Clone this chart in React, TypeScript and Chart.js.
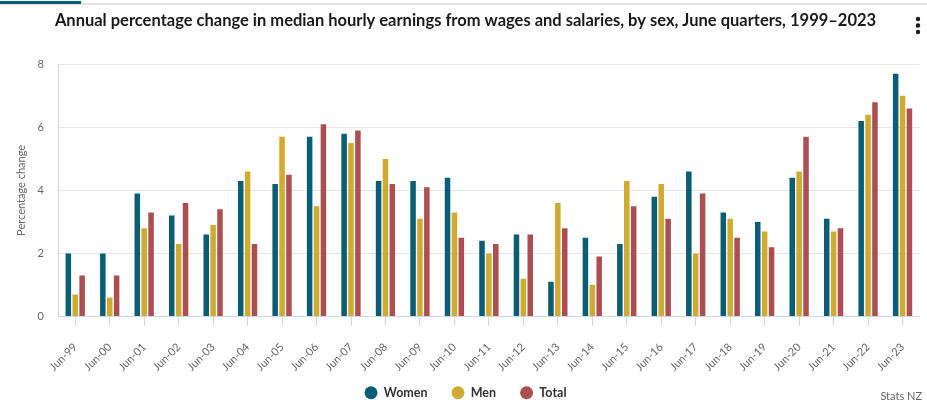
import React, { useEffect, useRef } from "react";
import { Chart, registerables } from "chart.js";

Chart.register(...registerables);

const categories = [
  "Jun-99", "Jun-00", "Jun-01", "Jun-02", "Jun-03", "Jun-04", "Jun-05", "Jun-06",
  "Jun-07", "Jun-08", "Jun-09", "Jun-10", "Jun-11", "Jun-12", "Jun-13", "Jun-14",
  "Jun-15", "Jun-16", "Jun-17", "Jun-18", "Jun-19", "Jun-20", "Jun-21", "Jun-22", "Jun-23",
];
const women = [2.0, 2.0, 3.9, 3.2, 2.6, 4.3, 4.2, 5.7, 5.8, 4.3, 4.3, 4.4, 2.4, 2.6, 1.1, 2.5, 2.3, 3.8, 4.6, 3.3, 3.0, 4.4, 3.1, 6.2, 7.7];
const men = [0.7, 0.6, 2.8, 2.3, 2.9, 4.6, 5.7, 3.5, 5.5, 5.0, 3.1, 3.3, 2.0, 1.2, 3.6, 1.0, 4.3, 4.2, 2.0, 3.1, 2.7, 4.6, 2.7, 6.4, 7.0];
const total = [1.3, 1.3, 3.3, 3.6, 3.4, 2.3, 4.5, 6.1, 5.9, 4.2, 4.1, 2.5, 2.3, 2.6, 2.8, 1.9, 3.5, 3.1, 3.9, 2.5, 2.2, 5.7, 2.8, 6.8, 6.6];
const yTicks = [0, 2, 4, 6, 8];

const TITLE = "Annual percentage change in median hourly earnings from wages and salaries, by sex, June quarters, 1999\u20132023";
const FONT = "Lato, 'Open Sans', sans-serif";

const decorPlugin = {
  id: "decor",
  afterDraw(chart: any) {
    const ctx = chart.ctx;
    ctx.save();
    ctx.fillStyle = "#e3e3e3";
    ctx.fillRect(0, 3, chart.width, 2);
    ctx.fillStyle = "#0b5d75";
    ctx.fillRect(0, 1, 81, 3);
    ctx.fillStyle = "#1a1a1a";
    [19, 25.5, 32].forEach((y) => {
      ctx.beginPath();
      ctx.arc(918, y, 2.2, 0, Math.PI * 2);
      ctx.fill();
    });
    ctx.font = `11px ${FONT}`;
    ctx.fillStyle = "#666";
    ctx.textAlign = "right";
    ctx.textBaseline = "middle";
    ctx.fillText("Stats NZ", 922, 396);
    ctx.restore();
  },
};

export default function App() {
  const ref = useRef<HTMLCanvasElement | null>(null);
  useEffect(() => {
    document.body.style.margin = "0";
    const chart = new Chart(ref.current as HTMLCanvasElement, {
      type: "bar",
      data: {
        labels: categories,
        datasets: [
          { label: "Women", data: women, backgroundColor: "#0b5d75", borderWidth: 0 },
          { label: "Men", data: men, backgroundColor: "#d1ab30", borderWidth: 0 },
          { label: "Total", data: total, backgroundColor: "#ad4f52", borderWidth: 0 },
        ],
      },
      options: {
        responsive: false,
        animation: false,
        devicePixelRatio: 1,
        layout: { padding: { left: 10, right: 6, top: 0, bottom: -3 } },
        datasets: { bar: { categoryPercentage: 0.6, barPercentage: 0.8 } },
        plugins: {
          title: {
            display: true,
            text: TITLE,
            color: "#1a1a1a",
            font: { family: FONT, size: 16.5, weight: "bold" },
            padding: { top: 11, bottom: 33.5 },
          },
          legend: {
            position: "bottom",
            labels: {
              usePointStyle: true,
              pointStyle: "circle",
              pointStyleWidth: 13,
              boxWidth: 13,
              boxHeight: 9.2,
              padding: 24,
              color: "#333",
              font: { family: FONT, size: 12.5, weight: "bold" },
            },
          },
          tooltip: { enabled: false },
        },
        scales: {
          x: {
            offset: true,
            grid: { display: true, offset: false, drawOnChartArea: false, drawTicks: true, tickLength: 9, color: "#ccd6eb" },
            border: { display: true, color: "#ccd6eb" },
            ticks: {
              color: "#666",
              font: { family: FONT, size: 11 },
              minRotation: 45,
              maxRotation: 45,
              autoSkip: false,
              padding: 15,
            },
            afterFit: (s: any) => {
              s.height = 46;
              s._computeLabelArea = () => undefined;
            },
          },
          y: {
            min: 0,
            max: 8,
            afterBuildTicks: (s: any) => { s.ticks = yTicks.map((v) => ({ value: v })); },
            grid: { color: "#e6e6e6", drawTicks: false },
            border: { display: true, color: "#ccd6eb" },
            ticks: { color: "#666", font: { family: FONT, size: 11 }, padding: 14 },
            title: {
              display: true,
              text: "Percentage change",
              color: "#666",
              font: { family: FONT, size: 11 },
              padding: { top: 4.5, bottom: 0 },
            },
            afterFit: (s: any) => { s.width = 48; },
          },
        },
      },
      plugins: [decorPlugin],
    });
    return () => chart.destroy();
  }, []);
  return (
    <div style={{ position: "absolute", left: 0, top: 0, width: 927, height: 406 }}>
      <canvas ref={ref} width={927} height={406} style={{ width: 927, height: 406 }} />
    </div>
  );
}
